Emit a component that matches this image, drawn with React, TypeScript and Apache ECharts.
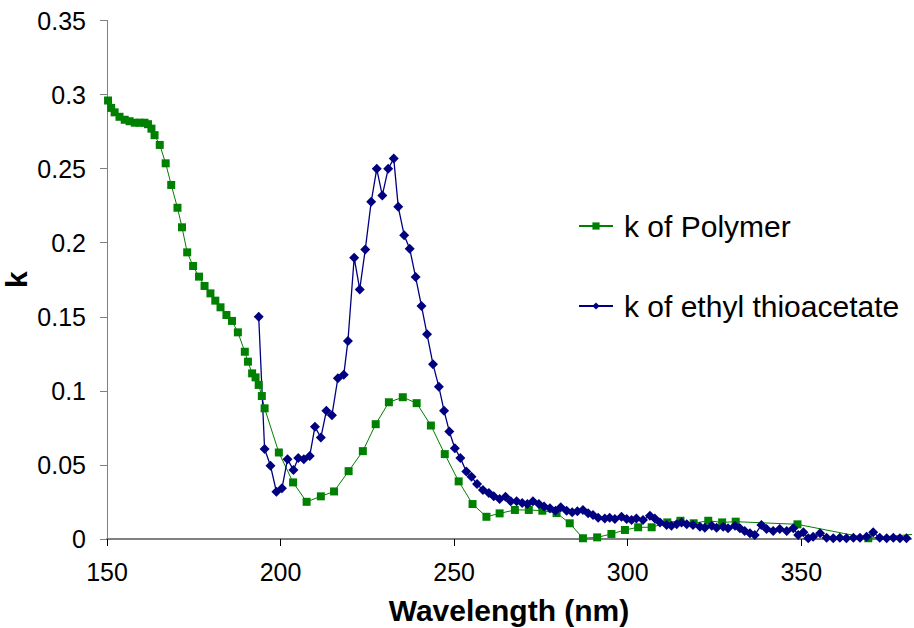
import React, { useEffect, useRef } from "react";
import * as echarts from "echarts";

// Wavelength (nm) and extinction coefficient k for the polymer film
const polymerWavelength = [
  150.3, 151.2, 152.2, 153.6, 155.1, 156.5, 158.0, 159.4, 160.8, 161.8, 162.8, 163.7,
  165.2, 166.9, 168.5, 170.3, 171.6, 173.1, 174.8, 176.5, 178.1, 179.8, 181.2, 182.7,
  184.4, 186.0, 187.7, 189.7, 190.6, 191.8, 192.8, 193.7, 194.6, 195.4, 199.5, 203.6,
  207.5, 211.6, 215.4, 219.6, 223.7, 227.4, 231.2, 235.2, 239.2, 243.3, 247.3, 251.3,
  255.3, 259.3, 263.1, 267.5, 271.5, 275.4, 279.5, 283.3, 287.1, 291.2, 295.3, 299.2,
  303.0, 306.9, 311.4, 315.2, 319.0, 323.2, 327.2, 331.1, 348.9, 369.3, 389.0,
];
const polymerK = [
  0.296, 0.291, 0.288, 0.285, 0.283, 0.282, 0.281, 0.281, 0.281, 0.28, 0.277, 0.2726,
  0.266, 0.2536, 0.239, 0.2236, 0.2104, 0.1935, 0.1843, 0.1771, 0.1708, 0.1658, 0.1609, 0.1564,
  0.1512, 0.1472, 0.1395, 0.1264, 0.1197, 0.1118, 0.1091, 0.104, 0.0965, 0.0882, 0.0584, 0.0382,
  0.0251, 0.0288, 0.0321, 0.0458, 0.0593, 0.0775, 0.0923, 0.0957, 0.0917, 0.0766, 0.0573, 0.0389,
  0.0236, 0.015, 0.0173, 0.0196, 0.0196, 0.0191, 0.0175, 0.0106, 0.0005, 0.0011, 0.0034, 0.0061,
  0.0079, 0.0079, 0.0112, 0.0123, 0.0106, 0.0123, 0.0112, 0.0117, 0.0099, 0.0005, 0.0045,
];

// Wavelength (nm) and extinction coefficient k for ethyl thioacetate
const thioWavelength = [
  193.7, 195.4, 197.1, 198.8, 200.4, 202.0, 203.7, 205.1, 206.7, 208.4, 209.9, 211.6,
  213.2, 214.8, 216.5, 218.2, 219.4, 221.2, 222.8, 224.4, 226.1, 227.7, 229.3, 231.0,
  232.6, 233.9, 235.6, 237.2, 238.9, 240.6, 242.2, 243.9, 245.6, 247.1, 248.6, 250.2,
  251.8, 253.5, 255.0, 256.6, 258.3, 260.0, 261.4, 263.1, 264.8, 266.3, 268.0, 269.6,
  271.1, 272.7, 274.4, 275.9, 277.6, 279.2, 280.7, 282.4, 284.0, 285.5, 287.1, 288.6,
  290.0, 291.5, 293.4, 294.8, 296.3, 298.2, 299.7, 301.1, 302.5, 304.4, 306.4, 307.8,
  309.3, 311.2, 312.6, 314.1, 315.5, 317.0, 318.8, 320.8, 322.2, 324.2, 325.6, 327.5,
  328.9, 330.9, 332.3, 333.7, 335.2, 336.6, 338.5, 340.0, 341.9, 343.8, 345.8, 347.7,
  349.1, 350.6, 352.0, 353.4, 355.4, 357.3, 359.2, 361.1, 363.0, 365.0, 366.9, 368.8,
  370.7, 372.6, 374.6, 376.5, 378.4, 380.3,
];
const thioK = [
  0.15, 0.0607, 0.0494, 0.0319, 0.0342, 0.0539, 0.0465, 0.0546, 0.0539, 0.0561, 0.0757, 0.0685,
  0.0865, 0.0836, 0.1085, 0.1108, 0.1337, 0.1899, 0.1685, 0.1955, 0.2276, 0.2499, 0.2319, 0.2499,
  0.2568, 0.2242, 0.2051, 0.1959, 0.1768, 0.1572, 0.1382, 0.118, 0.1027, 0.0865, 0.0726, 0.0613,
  0.0546, 0.0456, 0.042, 0.0371, 0.033, 0.031, 0.0288, 0.027, 0.0285, 0.0254, 0.0254, 0.0243,
  0.0236, 0.0254, 0.0236, 0.022, 0.0207, 0.0191, 0.0214, 0.0191, 0.018, 0.0187, 0.0196, 0.0173,
  0.0162, 0.0144, 0.0139, 0.0144, 0.0135, 0.0151, 0.0135, 0.0128, 0.0139, 0.0128, 0.0157, 0.0139,
  0.0112, 0.0094, 0.009, 0.0099, 0.0112, 0.0099, 0.0094, 0.0083, 0.0076, 0.009, 0.0076, 0.0083,
  0.0072, 0.009, 0.0072, 0.0054, 0.0038, 0.0027, 0.0095, 0.0067, 0.0054, 0.0067, 0.0054, 0.0072,
  0.0027, 0.0045, 0.0005, 0.0016, 0.0038, 0.0009, 0.0005, 0.0009, 0.0005, 0.0009, 0.0009, 0.0016,
  0.0045, 0.0009, 0.0005, 0.0009, 0.0005, 0.0005,
];

const seriesNames = ["k of Polymer", "k of ethyl thioacetate"];
const xTicks = [150, 200, 250, 300, 350];

const FONT = "'Liberation Sans', Arial, sans-serif";

const zip = (xs: number[], ys: number[]) => xs.map((x, i) => [x, ys[i]]);

export default function App() {
  const ref = useRef<HTMLDivElement>(null);

  useEffect(() => {
    if (!ref.current) return;
    const chart = echarts.init(ref.current, undefined, { renderer: "svg" });
    chart.setOption({
      animation: false,
      backgroundColor: "#ffffff",
      textStyle: { fontFamily: FONT },
      grid: {
        left: 107,
        right: 3,
        top: 20.5,
        bottom: 89,
        containLabel: false,
        outerBoundsMode: "none",
      },
      legend: {
        data: seriesNames,
        orient: "vertical",
        left: 578,
        top: 211,
        padding: 0,
        itemWidth: 34,
        itemHeight: 9,
        itemGap: 50,
        textStyle: {
          fontFamily: FONT,
          fontSize: 30,
          color: "#000",
          padding: [0, 0, 0, 6],
        },
      },
      xAxis: {
        type: "value",
        min: 150,
        max: 381.6,
        interval: 50,
        name: "Wavelength (nm)",
        nameLocation: "middle",
        nameGap: 56,
        nameMoveOverlap: false,
        nameTextStyle: {
          fontFamily: FONT,
          fontSize: 30,
          fontWeight: "bold",
          color: "#000",
        },
        splitLine: { show: false },
        axisLine: { lineStyle: { color: "#808080", width: 2 } },
        axisTick: {
          customValues: xTicks,
          length: 7,
          lineStyle: { color: "#000", width: 1 },
        },
        axisLabel: {
          customValues: xTicks,
          margin: 20,
          fontFamily: FONT,
          fontSize: 25,
          color: "#000",
        },
      },
      yAxis: {
        type: "value",
        min: 0,
        max: 0.35,
        interval: 0.05,
        name: "k",
        nameLocation: "middle",
        nameGap: 76,
        nameMoveOverlap: false,
        nameTextStyle: {
          fontFamily: FONT,
          fontSize: 30,
          fontWeight: "bold",
          color: "#000",
        },
        splitLine: { show: false },
        axisLine: { show: true, lineStyle: { color: "#808080", width: 1 } },
        axisTick: { show: true, length: 7, lineStyle: { color: "#808080" } },
        axisLabel: {
          margin: 21,
          fontFamily: FONT,
          fontSize: 25,
          color: "#000",
        },
      },
      series: [
        {
          name: seriesNames[0],
          type: "line",
          data: zip(polymerWavelength, polymerK),
          symbol: "rect",
          symbolSize: 8,
          clip: true,
          lineStyle: { color: "#008000", width: 1 },
          itemStyle: { color: "#008000" },
          emphasis: { disabled: true },
        },
        {
          name: seriesNames[1],
          type: "line",
          data: zip(thioWavelength, thioK),
          symbol: "diamond",
          symbolSize: 10,
          clip: true,
          lineStyle: { color: "#000080", width: 1.3 },
          itemStyle: { color: "#000080" },
          emphasis: { disabled: true },
        },
      ],
    });
    return () => chart.dispose();
  }, []);

  return (
    <div
      ref={ref}
      style={{ position: "absolute", left: 0, top: 0, width: 914, height: 628 }}
    />
  );
}
